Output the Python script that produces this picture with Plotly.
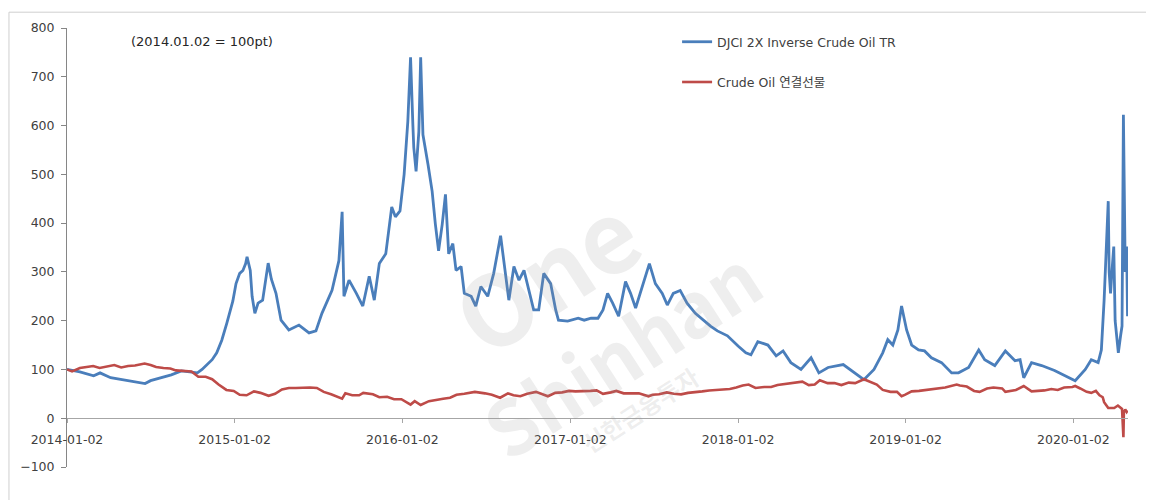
import plotly.graph_objects as go

# ---------------- data ----------------
blue_name = "DJCI 2X Inverse Crude Oil TR"
red_name = "Crude Oil 연결선물"

blue_dates = [
    "2014-01-02", "2014-01-30", "2014-03-01", "2014-03-15", "2014-04-07", "2014-05-01", "2014-05-22",
    "2014-06-12", "2014-06-21", "2014-07-03", "2014-07-27", "2014-08-17", "2014-09-08", "2014-10-02",
    "2014-10-13", "2014-10-23", "2014-11-03", "2014-11-14", "2014-11-24", "2014-12-05", "2014-12-16",
    "2014-12-22", "2014-12-29", "2015-01-05", "2015-01-13", "2015-01-20", "2015-01-26", "2015-01-29",
    "2015-02-05", "2015-02-09", "2015-02-15", "2015-02-22", "2015-03-04", "2015-03-16", "2015-03-23",
    "2015-04-02", "2015-04-13", "2015-04-30", "2015-05-22", "2015-06-13", "2015-06-28", "2015-07-11",
    "2015-08-02", "2015-08-17", "2015-08-24", "2015-08-28", "2015-09-08", "2015-09-24", "2015-10-08",
    "2015-10-22", "2015-11-02", "2015-11-13", "2015-11-27", "2015-12-10", "2015-12-18", "2015-12-28",
    "2016-01-06", "2016-01-14", "2016-01-20", "2016-01-25", "2016-01-27", "2016-02-01", "2016-02-07",
    "2016-02-11", "2016-02-16", "2016-02-27", "2016-03-07", "2016-03-14", "2016-03-21", "2016-03-29",
    "2016-04-05", "2016-04-12", "2016-04-21", "2016-04-28", "2016-05-09", "2016-05-16", "2016-05-31",
    "2016-06-10", "2016-06-21", "2016-07-06", "2016-07-19", "2016-08-03", "2016-08-14", "2016-08-21",
    "2016-09-01", "2016-09-12", "2016-09-23", "2016-10-03", "2016-10-14", "2016-10-25", "2016-11-05",
    "2016-11-20", "2016-12-01", "2016-12-07", "2016-12-27", "2017-01-19", "2017-02-01", "2017-02-16",
    "2017-03-03", "2017-03-14", "2017-03-24", "2017-04-04", "2017-04-17", "2017-05-02", "2017-05-13",
    "2017-05-24", "2017-06-08", "2017-06-23", "2017-07-06", "2017-07-21", "2017-08-01", "2017-08-14",
    "2017-08-29", "2017-09-13", "2017-10-01", "2017-10-18", "2017-11-03", "2017-11-18", "2017-12-10",
    "2018-01-02", "2018-01-19", "2018-01-30", "2018-02-14", "2018-03-08", "2018-03-26", "2018-04-10",
    "2018-04-27", "2018-05-19", "2018-06-10", "2018-06-27", "2018-07-17", "2018-08-19", "2018-09-05",
    "2018-10-03", "2018-10-25", "2018-11-13", "2018-11-24", "2018-12-05", "2018-12-16", "2018-12-24",
    "2019-01-04", "2019-01-15", "2019-01-30", "2019-02-12", "2019-02-27", "2019-03-21", "2019-04-12",
    "2019-04-27", "2019-05-19", "2019-06-10", "2019-06-23", "2019-07-15", "2019-08-07", "2019-08-28",
    "2019-09-08", "2019-09-16", "2019-10-03", "2019-10-25", "2019-11-22", "2019-12-23", "2020-01-06",
    "2020-01-28", "2020-02-10", "2020-02-25", "2020-03-03", "2020-03-09", "2020-03-18", "2020-03-20",
    "2020-03-23", "2020-03-26", "2020-03-30", "2020-04-02", "2020-04-06", "2020-04-09", "2020-04-14",
    "2020-04-17", "2020-04-20", "2020-04-22", "2020-04-24", "2020-04-27", "2020-04-28", "2020-04-29",
]
blue_values = [
    100, 95, 87, 93, 83, 79, 77,
    73, 71, 77, 83, 89, 97, 95,
    93, 100, 110, 120, 134, 160, 195,
    215, 240, 276, 297, 303, 317, 331,
    303, 250, 215, 236, 242, 318, 285,
    256, 201, 181, 191, 175, 179, 215,
    262, 323, 423, 250, 283, 256, 230,
    291, 242, 317, 337, 433, 413, 425,
    500, 608, 740, 602, 555, 506, 587,
    740, 581, 520, 465, 398, 343, 398,
    459, 337, 358, 303, 311, 256, 250,
    230, 270, 250, 297, 374, 291, 242,
    311, 283, 303, 262, 222, 222, 297,
    276, 222, 201, 199, 205, 201, 205,
    205, 222, 256, 236, 209, 280, 256,
    226, 270, 317, 276, 256, 232, 256,
    262, 236, 215, 201, 189, 179, 169,
    148, 134, 130, 157, 150, 128, 138,
    114, 100, 124, 93, 104, 110, 98,
    79, 100, 134, 161, 150, 181, 230,
    181, 150, 140, 138, 124, 114, 93,
    93, 104, 140, 120, 108, 138, 118,
    120, 83, 114, 108, 98, 83, 77,
    100, 120, 114, 140, 242, 445, 300,
    256, 300, 352, 200, 160, 134, 170,
    189, 622, 352, 300, 352, 260, 209,
]

red_dates = [
    "2014-01-02", "2014-01-13", "2014-01-30", "2014-02-14", "2014-02-28", "2014-03-14", "2014-03-31",
    "2014-04-15", "2014-04-30", "2014-05-15", "2014-05-30", "2014-06-20", "2014-07-03", "2014-07-15",
    "2014-07-31", "2014-08-15", "2014-08-27", "2014-09-12", "2014-09-30", "2014-10-15", "2014-10-31",
    "2014-11-14", "2014-11-28", "2014-12-15", "2014-12-31", "2015-01-13", "2015-01-28", "2015-02-13",
    "2015-02-27", "2015-03-17", "2015-03-31", "2015-04-15", "2015-04-30", "2015-05-15", "2015-05-29",
    "2015-06-15", "2015-06-30", "2015-07-15", "2015-07-31", "2015-08-24", "2015-08-31", "2015-09-15",
    "2015-09-30", "2015-10-09", "2015-10-30", "2015-11-13", "2015-11-30", "2015-12-15", "2015-12-31",
    "2016-01-20", "2016-01-29", "2016-02-11", "2016-02-29", "2016-03-15", "2016-03-31", "2016-04-15",
    "2016-04-29", "2016-05-16", "2016-06-08", "2016-06-30", "2016-07-15", "2016-08-02", "2016-08-19",
    "2016-08-31", "2016-09-15", "2016-09-30", "2016-10-19", "2016-11-14", "2016-11-30", "2016-12-15",
    "2016-12-30", "2017-01-13", "2017-01-31", "2017-02-15", "2017-02-28", "2017-03-14", "2017-03-31",
    "2017-04-12", "2017-04-28", "2017-05-15", "2017-05-31", "2017-06-21", "2017-06-30", "2017-07-14",
    "2017-07-31", "2017-08-15", "2017-08-31", "2017-09-15", "2017-09-29", "2017-10-16", "2017-10-31",
    "2017-11-15", "2017-11-30", "2017-12-15", "2017-12-29", "2018-01-12", "2018-01-25", "2018-02-09",
    "2018-02-28", "2018-03-15", "2018-03-29", "2018-04-17", "2018-04-30", "2018-05-22", "2018-06-05",
    "2018-06-18", "2018-06-29", "2018-07-16", "2018-07-31", "2018-08-15", "2018-08-31", "2018-09-14",
    "2018-10-03", "2018-10-15", "2018-10-31", "2018-11-13", "2018-11-30", "2018-12-14", "2018-12-24",
    "2018-12-31", "2019-01-15", "2019-01-31", "2019-02-15", "2019-02-28", "2019-03-15", "2019-03-29",
    "2019-04-23", "2019-04-30", "2019-05-15", "2019-05-31", "2019-06-12", "2019-06-28", "2019-07-12",
    "2019-07-31", "2019-08-07", "2019-08-30", "2019-09-16", "2019-09-30", "2019-10-03", "2019-10-31",
    "2019-11-15", "2019-11-29", "2019-12-13", "2019-12-31", "2020-01-06", "2020-01-17", "2020-01-31",
    "2020-02-10", "2020-02-20", "2020-02-28", "2020-03-06", "2020-03-09", "2020-03-18", "2020-03-31",
    "2020-04-08", "2020-04-17", "2020-04-20", "2020-04-21", "2020-04-24", "2020-04-27", "2020-04-29",
]
red_values = [
    100, 96, 103, 105, 107, 103, 106,
    109, 104, 107, 108, 112, 109, 105,
    103, 102, 98, 97, 96, 85, 85,
    80, 69, 58, 56, 48, 47, 55,
    52, 46, 50, 59, 62, 62, 63,
    63, 62, 54, 49, 40, 51, 47,
    47, 52, 49, 43, 44, 39, 39,
    28, 35, 27, 35, 38, 40, 42,
    48, 50, 54, 51, 48, 42, 51,
    47, 45, 50, 54, 45, 52, 53,
    56, 55, 55, 56, 57, 50, 53,
    56, 51, 51, 51, 45, 48, 49,
    53, 50, 49, 52, 54, 55, 57,
    58, 60, 60, 63, 67, 69, 62,
    64, 64, 68, 70, 72, 75, 68,
    69, 78, 72, 72, 68, 73, 72,
    80, 75, 69, 58, 54, 54, 45,
    48, 55, 56, 58, 60, 61, 63,
    69, 67, 65, 56, 54, 61, 63,
    61, 54, 58, 66, 57, 55, 57,
    60, 58, 63, 64, 66, 61, 54,
    52, 56, 47, 43, 33, 21, 21,
    26, 19, -39, 12, 18, 13, 16,
]

y_ticks = [-100, 0, 100, 200, 300, 400, 500, 600, 700, 800]
x_ticks = ["2014-01-02", "2015-01-02", "2016-01-02", "2017-01-02",
           "2018-01-02", "2019-01-02", "2020-01-02"]
x_range = ["2014-01-02", "2020-04-30"]
note_text = "(2014.01.02 = 100pt)"

# ---------------- figure ----------------
FONT = "DejaVu Sans, Noto Sans CJK KR, sans-serif"
WM_FONT = "Noto Sans CJK KR, Noto Sans, sans-serif"

fig = go.Figure()
fig.add_trace(go.Scatter(
    x=blue_dates, y=blue_values, name=blue_name, mode="lines",
    line=dict(color="#4A7EBB", width=2.8), legendgroup="a",
))
fig.add_trace(go.Scatter(
    x=red_dates, y=red_values, name=red_name, mode="lines",
    line=dict(color="#BE4B48", width=2.6), legendgroup="b",
))

# faint watermark
wm_color = "rgba(150,150,150,0.16)"
fig.add_annotation(text="<b>One</b>", xref="paper", yref="paper", x=0.4505, y=0.446,
                   xanchor="center", yanchor="middle", showarrow=False, textangle=-33,
                   font=dict(size=98, color=wm_color, family=WM_FONT))
fig.add_annotation(text="<b>Shinhan</b>", xref="paper", yref="paper", x=0.521, y=0.265,
                   xanchor="center", yanchor="middle", showarrow=False, textangle=-33,
                   font=dict(size=76, color=wm_color, family=WM_FONT))
fig.add_annotation(text="<b>신한금융투자</b>", xref="paper", yref="paper", x=0.54, y=0.13,
                   xanchor="center", yanchor="middle", showarrow=False, textangle=-33,
                   font=dict(size=24, color=wm_color, family=WM_FONT))

# base note
fig.add_annotation(text=note_text, xref="paper", yref="paper", x=0.127, y=0.969,
                   xanchor="center", yanchor="middle", showarrow=False,
                   font=dict(size=13, color="#262626", family=FONT))

# outer frame
fig.add_shape(type="rect", xref="paper", yref="paper",
              x0=-0.0547, x1=1.0189, y0=-0.2, y1=1.036,
              line=dict(color="#CFCFCF", width=1), fillcolor="rgba(0,0,0,0)", layer="below")

fig.update_layout(
    width=1146, height=492,
    margin=dict(l=59, r=26, t=17, b=33),
    paper_bgcolor="white", plot_bgcolor="white",
    font=dict(family=FONT, size=12, color="#404040"),
    showlegend=True,
    legend=dict(
        x=0.575, y=1.002, xanchor="left", yanchor="top",
        bgcolor="rgba(0,0,0,0)", borderwidth=0,
        traceorder="grouped", tracegroupgap=21,
        font=dict(size=12.5, color="#404040", family=FONT),
        itemwidth=30,
    ),
    xaxis=dict(
        type="date", range=x_range,
        anchor="free", position=1 / 9,
        tickvals=x_ticks, ticktext=x_ticks,
        showline=True, linecolor="#A6A6A6", linewidth=1,
        ticks="outside", ticklen=4, tickcolor="#A6A6A6",
        ticklabelstandoff=6,
        showgrid=False, zeroline=False,
        tickfont=dict(size=12.5, color="#404040"),
    ),
    yaxis=dict(
        range=[-100, 800], tickvals=y_ticks,
        showline=True, linecolor="#868686", linewidth=1,
        ticks="outside", ticklen=5, tickcolor="#868686",
        ticklabelstandoff=4,
        showgrid=False, zeroline=False,
        tickfont=dict(size=12.5, color="#404040"),
    ),
)

fig.write_html("out.html")
